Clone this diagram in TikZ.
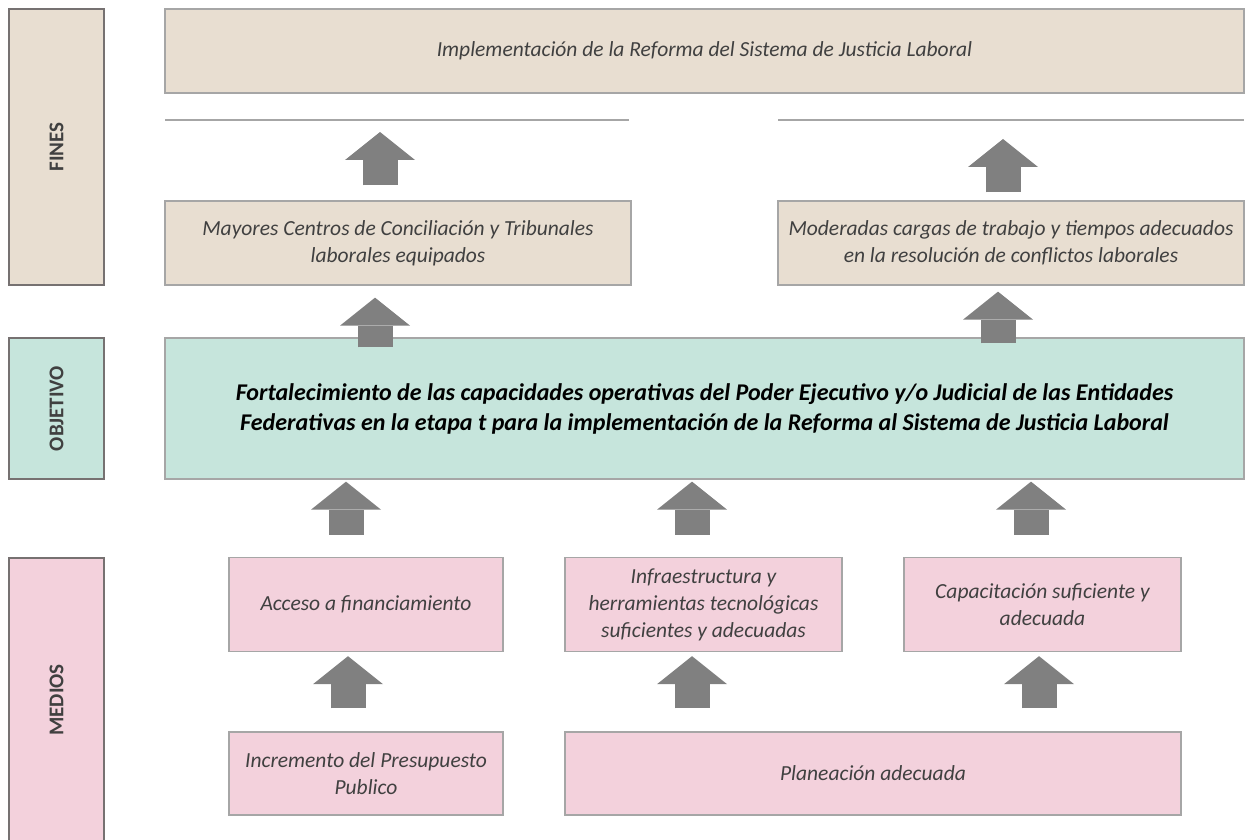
\documentclass[tikz,border=0pt]{standalone}
\usepackage{fontspec}
\setmainfont{Carlito}
\usetikzlibrary{calc, arrows.meta}
\definecolor{finfill}{HTML}{E8DED1}
\definecolor{objfill}{HTML}{C6E5DC}
\definecolor{medfill}{HTML}{F3D1DC}
\definecolor{arrgray}{HTML}{808080}
\definecolor{boxline}{HTML}{A6A6A6}
\definecolor{tagline}{HTML}{767171}
\definecolor{txtgray}{HTML}{404040}

\begin{document}
\begin{tikzpicture}[x=1pt,y=-1pt,
    box/.style={draw=boxline, line width=1.3pt, inner sep=0pt, align=center, text=txtgray,
        font=\fontsize{21.5}{27}\selectfont\itshape},
    tag/.style={draw=tagline, line width=1.6pt, minimum width=95pt, inner sep=0pt},
    tagtext/.style={rotate=90, text=txtgray, font=\fontsize{21}{23}\selectfont\bfseries},
    rule/.style={draw=boxline, line width=1.5pt},
    up/.style={draw=arrgray, line width=35pt, -{Triangle[width=70pt,length=28pt,line width=0pt]}}]
    \useasboundingbox (0,0) rectangle (1245,840);
    \clip (0,0) rectangle (1245,840);

    \draw (56.5,147) node[tag,fill=finfill,minimum height=276pt](finTag){} node[tagtext](finT){FINES};
    \draw (56.5,408.5) node[tag,fill=objfill,minimum height=141pt](objTag){} node[tagtext](objT){OBJETIVO};
    \draw (56.5,700) node[tag,fill=medfill,minimum height=284pt](medTag){} node[tagtext](medT){MEDIOS};

    \draw (704.5,51) node[box,fill=finfill,minimum width=1079pt,minimum height=84pt](impl){Implementación de la Reforma del Sistema de Justicia Laboral};
    \draw[rule] (165,120) coordinate(lnL) -- (629,120);
    \draw[rule] (778,120) coordinate(lnR) -- (1244,120);
    \draw (398,243) node[box,fill=finfill,minimum width=466pt,minimum height=84pt](mayo){Mayores Centros de Conciliación y Tribunales\\laborales equipados};
    \draw (1011,243) node[box,fill=finfill,minimum width=466pt,minimum height=84pt](mode){Moderadas cargas de trabajo y tiempos adecuados\\en la resolución de conflictos laborales};

    \draw (704.5,408.5) node[box,fill=objfill,minimum width=1079pt,minimum height=141pt,text=black,
        font=\fontsize{24}{30}\selectfont\bfseries\itshape](forta){Fortalecimiento de las capacidades operativas del Poder Ejecutivo y/o Judicial de las Entidades\\Federativas en la etapa t para la implementación de la Reforma al Sistema de Justicia Laboral};

    \draw (366,604.5) node[box,fill=medfill,minimum width=274pt,minimum height=94pt](acce){Acceso a financiamiento};
    \draw (703.5,604.5) node[box,fill=medfill,minimum width=277pt,minimum height=94pt](infr){Infraestructura y\\herramientas tecnológicas\\suficientes y adecuadas};
    \draw (1042.5,604.5) node[box,fill=medfill,minimum width=277pt,minimum height=94pt](capa){Capacitación suficiente y\\adecuada};
    \draw (366,773.5) node[box,fill=medfill,minimum width=274pt,minimum height=83pt](incr){Incremento del Presupuesto\\Publico};
    \draw (873,773.5) node[box,fill=medfill,minimum width=616pt,minimum height=83pt](plan){Planeación adecuada};

    \draw[up] ($(mayo.north -| 380,0)+(0,-15)$) -- ($(lnL -| 380,0)+(0,12)$);
    \draw[up] ($(mode.north -| 1003,0)+(0,-8)$) -- ($(lnR -| 1003,0)+(0,19)$);
    \draw[up] ($(forta.north -| 375,0)+(0,10)$) -- ($(mayo.south -| 375,0)+(0,12)$);
    \draw[up] ($(forta.north -| 998,0)+(0,6)$) -- ($(mode.south -| 998,0)+(0,6)$);
    \draw[up] ($(acce.north -| 346,0)+(0,-22)$) -- ($(forta.south -| 346,0)+(0,2)$);
    \draw[up] ($(infr.north -| 692,0)+(0,-22)$) -- ($(forta.south -| 692,0)+(0,2)$);
    \draw[up] ($(capa.north -| 1031,0)+(0,-22)$) -- ($(forta.south -| 1031,0)+(0,2)$);
    \draw[up] ($(incr.north -| 348,0)+(0,-23)$) -- ($(acce.south -| 348,0)+(0,4)$);
    \draw[up] ($(plan.north -| 692,0)+(0,-23)$) -- ($(infr.south -| 692,0)+(0,4)$);
    \draw[up] ($(plan.north -| 1039,0)+(0,-23)$) -- ($(capa.south -| 1039,0)+(0,4)$);
\end{tikzpicture}
\end{document}
